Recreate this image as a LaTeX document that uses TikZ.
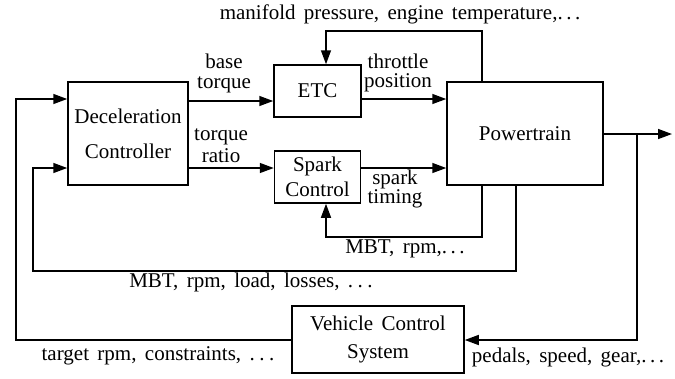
\documentclass[tikz,border=0pt]{standalone}
\usepackage{fontspec}
\setmainfont{Liberation Serif}
\usetikzlibrary{arrows.meta}
\newcommand\myfsz[1]{\fontsize{21}{#1}\selectfont\spaceskip 0.4em plus 0.1em\relax}
\newcommand\wdots{.\hspace{4.5pt}.\hspace{4.5pt}.}
\begin{document}
\begin{tikzpicture}[x=1pt,y=-1pt,
  ln/.style={line width=1.5pt},
  arr/.style={ln,-{Triangle[length=14pt,width=10pt]}},
  blk/.style={draw,line width=1.5pt,inner sep=0pt,align=center},
  lbl/.style={inner sep=0pt,align=center},
  fs/.style={font={\myfsz{#1}}}]
\useasboundingbox (0,0) rectangle (675,378);
% blocks
\node[blk,fs=35,minimum width=120pt,minimum height=103pt] (dec) at (128,133.5) {Deceleration\\Controller};
\node[blk,fs=22,minimum width=87pt,minimum height=52pt] (etc) at (317.5,91) {ETC};
\node[blk,fs=25,minimum width=86pt,minimum height=52pt] (spk) at (317.5,177) {Spark\\Control};
\node[blk,fs=22,minimum width=156pt,minimum height=103pt] (pt) at (525,133.5) {Powertrain};
\node[blk,fs=28,minimum width=172pt,minimum height=67pt] (vcs) at (378,339.5) {Vehicle Control\\System};
% helper coordinates
\coordinate (ya) at (0,101);
\coordinate (yb) at (0,168);
\coordinate (yc) at (0,99);
\coordinate (m1) at (482,31);
\coordinate (m2) at (326,31);
\coordinate (r1) at (482,237);
\coordinate (r2) at (326,237);
\coordinate (o1) at (516,271);
\coordinate (o2) at (33,271);
\coordinate (out) at (672,134);
\coordinate (br) at (637,134);
\coordinate (br2) at (637,340);
\coordinate (v1) at (16,340);
% connectors
\draw[arr] (dec.east |- ya) -- (etc.west |- ya);
\draw[arr] (dec.east |- yb) -- (spk.west |- yb);
\draw[arr] (etc.east |- yc) -- (pt.west |- yc);
\draw[arr] (spk.east |- yb) -- (pt.west |- yb);
\draw[arr] (m1 |- pt.north) -- (m1) -- (m2) -- (m2 |- etc.north);
\draw[arr] (r1 |- pt.south) -- (r1) -- (r2) -- (r2 |- spk.south);
\draw[arr] (o1 |- pt.south) -- (o1) -- (o2) -- (o2 |- yb) -- (dec.west |- yb);
\draw[arr] (pt.east |- out) -- (out);
\draw[arr] (br) -- (br2) -- (vcs.east |- br2);
\draw[arr] (vcs.west |- br2) -- (v1) -- (v1 |- yc) -- (dec.west |- yc);
% labels
\node[lbl,fs=22] (lm) at (400,14) {manifold pressure, engine temperature,.\,.\,.};
\node[lbl,fs=20] (lbt) at (224,73) {base\\torque};
\node[lbl,fs=22] (ltr) at (221,146) {torque\\ratio};
\node[lbl,fs=19] (ltp) at (398,72.5) {throttle\\position};
\node[lbl,fs=19] (lst) at (395,188.5) {spark\\timing};
\node[lbl,fs=22] (lmr) at (405,249) {MBT, rpm,.\,.\,.};
\node[lbl,fs=22] (lml) at (251,282) {MBT, rpm, load, losses, \wdots};
\node[lbl,fs=22] (ltg) at (158,356) {target rpm, constraints, \wdots};
\node[lbl,fs=22] (lpd) at (568,357) {pedals, speed, gear,.\,.\,.};
\end{tikzpicture}
\end{document}
